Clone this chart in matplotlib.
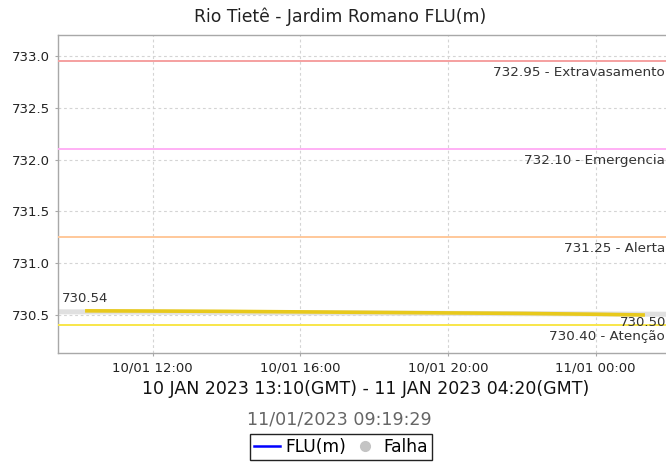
import matplotlib
matplotlib.use("Agg")
import matplotlib.pyplot as plt
import matplotlib.dates as mdates
from matplotlib.lines import Line2D
from matplotlib.transforms import offset_copy
from datetime import datetime

plt.rcParams['font.family'] = ['DejaVu Sans']

# ---- data ----
times = ["2023-01-10 10:10", "2023-01-10 12:00", "2023-01-10 14:00", "2023-01-10 16:00",
         "2023-01-10 18:00", "2023-01-10 20:00", "2023-01-10 22:00", "2023-01-11 00:00",
         "2023-01-11 01:20"]
flu = [730.54, 730.538, 730.535, 730.53, 730.525, 730.52, 730.515, 730.507, 730.50]

band_times = ["2023-01-10 09:26", "2023-01-11 02:04"]
band_values = [730.531, 730.507]

thresholds = [732.95, 732.10, 731.25, 730.40]
threshold_names = ["Extravasamento", "Emergencia", "Alerta", "Atenção"]
threshold_colors = ["#f5a0a0", "#ffb0f5", "#ffc89a", "#f8e64a"]

yticks = [730.5, 731.0, 731.5, 732.0, 732.5, 733.0]
ylim = (730.133, 733.203)
xlim = ("2023-01-10 09:26", "2023-01-11 02:04")

title = "Rio Tietê - Jardim Romano FLU(m)"
xlabel = "10 JAN 2023 13:10(GMT) - 11 JAN 2023 04:20(GMT)"
stamp = "11/01/2023 09:19:29"

fmt = "%Y-%m-%d %H:%M"
t = [datetime.strptime(s, fmt) for s in times]
bt = [datetime.strptime(s, fmt) for s in band_times]
xl = [datetime.strptime(s, fmt) for s in xlim]

fig = plt.figure(figsize=(6.66, 4.63), dpi=100)
ax = fig.add_axes([58/666, 1-353/463, 614/666, 318/463])

ax.set_xlim(xl)
ax.set_ylim(ylim)
ax.set_yticks(yticks)
ax.yaxis.set_major_formatter(matplotlib.ticker.FormatStrFormatter('%.1f'))
ax.xaxis.set_major_locator(mdates.HourLocator(byhour=[0, 4, 8, 12, 16, 20]))
ax.xaxis.set_major_formatter(mdates.DateFormatter('%d/%m %H:%M'))

ax.grid(True, color='#d4d4d4', linestyle=(0, (2.5, 2.5)), linewidth=0.8)
ax.set_axisbelow(True)
for sp in ax.spines.values():
    sp.set_color('#a8a8a8')
    sp.set_linewidth(1.0)
ax.tick_params(axis='both', length=2.5, width=0.8, color='#a8a8a8',
               labelsize=9.5, labelcolor='#222222', pad=3.5)

# gray band and data
ax.plot(bt, band_values, color='#e0e0e0', linewidth=3.6, solid_capstyle='butt', zorder=2)
for y, name, c in zip(thresholds, threshold_names, threshold_colors):
    ax.axhline(y, color=c, linewidth=1.4, zorder=3)
    tr = offset_copy(ax.get_yaxis_transform(), fig=fig, x=-7, y=-11, units='dots')
    ax.text(1.0, y, f"{y:.2f} - {name}", transform=tr, ha='right', va='center',
            fontsize=9.7, color='#333333', zorder=5)

ax.plot(t, flu, color='#e8c91c', linewidth=2.6, solid_capstyle='butt', zorder=4)

tr_up = offset_copy(ax.transData, fig=fig, x=0, y=12, units='dots')
ax.text(t[0], flu[0], f"{flu[0]:.2f}", transform=tr_up, ha='center', va='center',
        fontsize=9.5, color='#333333')
tr_dn = offset_copy(ax.transData, fig=fig, x=-2, y=-8, units='dots')
ax.text(t[-1], flu[-1], f"{flu[-1]:.2f}", transform=tr_dn, ha='center', va='center',
        fontsize=9.5, color='#333333')

fig.text(340/666, 1-17/463, title, ha='center', va='center', fontsize=12.4, color='#222222')
fig.text(366/666, 1-389/463, xlabel, ha='center', va='center', fontsize=12.5, color='#111111')
fig.text(339/666, 1-419/463, stamp, ha='center', va='center', fontsize=12.6, color='#666666')

handles = [Line2D([], [], color='#0000ff', linewidth=1.8),
           Line2D([], [], color='#c4c4c4', marker='o', linestyle='none', markersize=7)]
leg = fig.legend(handles, ["FLU(m)", "Falha"], loc='center', ncol=2,
                 bbox_to_anchor=(341/666, 1-447/463), fontsize=12.3,
                 frameon=True, fancybox=False, edgecolor='#222222', framealpha=1,
                 handlelength=1.5, handletextpad=0.3, columnspacing=0.4,
                 borderpad=0.25, borderaxespad=0)
leg.get_frame().set_linewidth(1.0)

fig.savefig("out.png", dpi=100)
